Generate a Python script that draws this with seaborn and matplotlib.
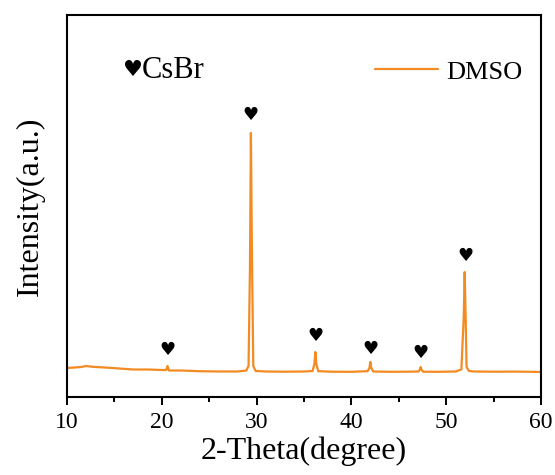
import matplotlib
matplotlib.use("Agg")
import matplotlib.pyplot as plt
import seaborn as sns
import pandas as pd
from matplotlib.ticker import MultipleLocator

# ---- data ----
two_theta = [10.0, 10.8, 11.5, 12.0, 12.4, 13.0, 14.0, 15.5, 17.0, 18.5, 20.0, 20.45, 20.6, 20.75,
             22.0, 24.0, 26.0, 28.0, 28.9, 29.15, 29.3, 29.4, 29.5, 29.65, 29.9, 31.0,
             33.0, 35.0, 35.9, 36.1, 36.2, 36.3, 36.5, 38.0, 40.0, 41.7, 41.9, 42.0, 42.1, 42.3,
             44.0, 46.0, 47.1, 47.25, 47.3, 47.4, 47.55, 49.0, 51.0, 51.6, 51.85, 51.95, 52.05, 52.15,
             52.4, 53.0, 55.0, 57.0, 59.0, 60.0]
intensity = [29.0, 29.5, 30.0, 31.0, 30.5, 30.0, 29.5, 28.5, 27.5, 27.5, 27.0, 27.0, 31.0, 26.5,
             26.5, 25.8, 25.5, 25.5, 26.5, 31.0, 130.0, 264.0, 150.0, 31.0, 26.0, 25.5,
             25.3, 25.5, 26.0, 33.0, 45.0, 33.0, 25.8, 25.3, 25.2, 25.8, 29.0, 35.0, 29.0, 25.5,
             25.2, 25.3, 25.5, 28.0, 30.0, 27.5, 25.3, 25.2, 25.5, 27.5, 80.0, 125.0, 80.0, 30.0,
             26.0, 25.5, 25.3, 25.4, 25.2, 25.0]
peak_x = [20.6, 29.4, 36.2, 42.0, 47.3, 52.0]
marker_y = [47, 282, 61, 48, 44, 141]
series_name = "DMSO"
phase_label = "CsBr"
x_ticks = [10, 20, 30, 40, 50, 60]

sns.set_style("ticks")
plt.rcParams["font.family"] = ["Liberation Serif", "DejaVu Sans"]
for k in ["text.color", "axes.labelcolor", "xtick.color", "ytick.color", "axes.edgecolor"]:
    plt.rcParams[k] = "black"

df = pd.DataFrame({"2theta": two_theta, "I": intensity, "sample": series_name})

fig = plt.figure(figsize=(5.55, 4.75), dpi=100)
ax = fig.add_axes([67/555, 1 - 397/475, 474/555, 382/475])

sns.lineplot(data=df, x="2theta", y="I", hue="sample", palette=["#F48B22"],
             linewidth=1.6, ax=ax, sort=False, estimator=None)

for px, my in zip(peak_x, marker_y):
    ax.text(px, my, "\u2665", ha="center", va="center", fontsize=13,
            family=["DejaVu Sans"], color="black")

ax.text((123-67)/474, (397-70)/382, "\u2665", transform=ax.transAxes,
        ha="left", va="center", fontsize=16, family=["DejaVu Sans"], color="black")
ax.text((142-67)/474, (397-70)/382, phase_label, transform=ax.transAxes,
        ha="left", va="center", fontsize=22, color="black")

ax.set_xlim(10, 60)
ax.set_ylim(0, 382)
ax.set_xticks(x_ticks)
ax.xaxis.set_minor_locator(MultipleLocator(5))
ax.set_yticks([])
ax.tick_params(axis="x", which="major", direction="out", length=6, width=1.4,
               labelsize=17, pad=5, top=False, colors="black")
ax.tick_params(axis="x", which="minor", direction="out", length=3.5, width=1.4, top=False)
for s in ax.spines.values():
    s.set_visible(True)
    s.set_linewidth(1.5)
    s.set_color("black")

ax.set_xlabel("2-Theta(degree)", fontsize=23, labelpad=2, color="black")
ax.set_ylabel("Intensity(a.u.)", fontsize=23, labelpad=16, color="black")

leg = ax.legend(frameon=False, loc="center right",
                bbox_to_anchor=((522-67)/474, (397-72)/382),
                borderaxespad=0, borderpad=0, handlelength=2.4, handletextpad=0.3,
                fontsize=19)
for line in leg.get_lines():
    line.set_linewidth(1.6)
for t in leg.get_texts():
    t.set_color("black")

fig.savefig("out.png", dpi=100)
